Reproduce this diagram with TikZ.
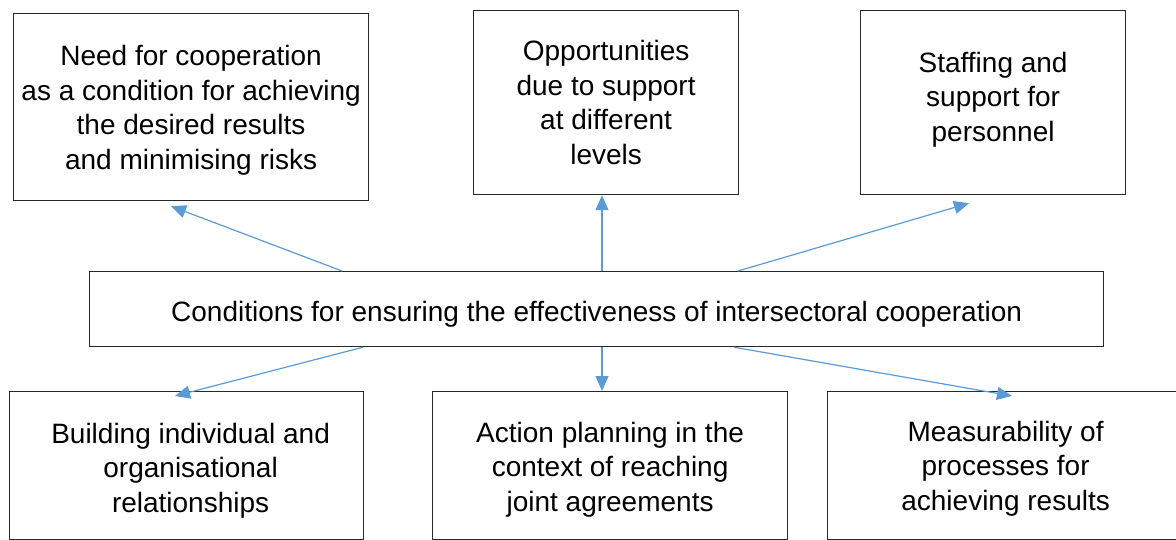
\documentclass[tikz,border=0pt]{standalone}
\usepackage{fontspec}
\setmainfont{Liberation Sans}
\usetikzlibrary{arrows.meta}
\definecolor{linkblue}{RGB}{91,155,213}
\definecolor{boxline}{RGB}{40,40,40}
\begin{document}
\begin{tikzpicture}[x=1pt,y=-1pt,
  box/.style={draw=boxline, line width=1.2pt, fill=white, inner sep=0pt,
    anchor=north west},
  txt/.style={inner sep=0pt, align=center,
    font=\fontsize{28pt}{34.5pt}\selectfont},
  link/.style={draw=linkblue, line width=1.2pt,
    -{Triangle[length=15pt,width=13pt]}}]
\useasboundingbox (0,0) rectangle (1176,540);
\clip (0,0) rectangle (1176,540);

% frames
\node[box, minimum width=355pt, minimum height=187pt] (need) at (13,13) {};
\node[box, minimum width=265pt, minimum height=184pt] (opp) at (473,10) {};
\node[box, minimum width=265pt, minimum height=184pt] (staff) at (860,10) {};
\node[box, minimum width=1014pt, minimum height=75pt] (cond) at (89,271) {};
\node[box, minimum width=354pt, minimum height=148pt] (build) at (9,391) {};
\node[box, minimum width=355pt, minimum height=148pt] (plan) at (432,391) {};
\node[box, minimum width=356pt, minimum height=148pt] (meas) at (827,391) {};

% texts inside the frames
\node[txt] (needText) at ([yshift=-3pt]need.center)
  {Need for cooperation\\as a condition for achieving\\the desired results\\and minimising risks};
\node[txt] (oppText) at (opp.center)
  {Opportunities\\due to support\\at different\\levels};
\node[txt] (staffText) at ([yshift=3pt]staff.center)
  {Staffing and\\support for\\personnel};
\node[txt] (condText) at ([yshift=-5pt]cond.center)
  {Conditions for ensuring the effectiveness of intersectoral cooperation};
\node[txt] (buildText) at ([xshift=4pt,yshift=-5pt]build.center)
  {Building individual and\\organisational\\relationships};
\node[txt] (planText) at ([yshift=-4pt]plan.center)
  {Action planning in the\\context of reaching\\joint agreements};
\node[txt] (measText) at ([yshift=-3pt]meas.center)
  {Measurability of\\processes for\\achieving results};

% arrow ends
\coordinate (needTip) at ([xshift=158pt,yshift=-5pt]need.south west);
\coordinate (staffTip) at ([xshift=109pt,yshift=-8pt]staff.south west);
\coordinate (buildTip) at ([xshift=166pt,yshift=-5pt]build.north west);
\coordinate (measTip) at ([xshift=185pt,yshift=-5pt]meas.north west);

\draw[link] ([xshift=253pt]cond.north west) -- (needTip);
\draw[link] ([xshift=513pt]cond.north west) -- (opp.south -| {(602,0)});
\draw[link] ([xshift=649pt]cond.north west) -- (staffTip);
\draw[link] ([xshift=274pt]cond.south west) -- (buildTip);
\draw[link] ([xshift=513pt]cond.south west) -- (plan.north -| {(602,0)});
\draw[link] ([xshift=645pt]cond.south west) -- (measTip);
\end{tikzpicture}
\end{document}
